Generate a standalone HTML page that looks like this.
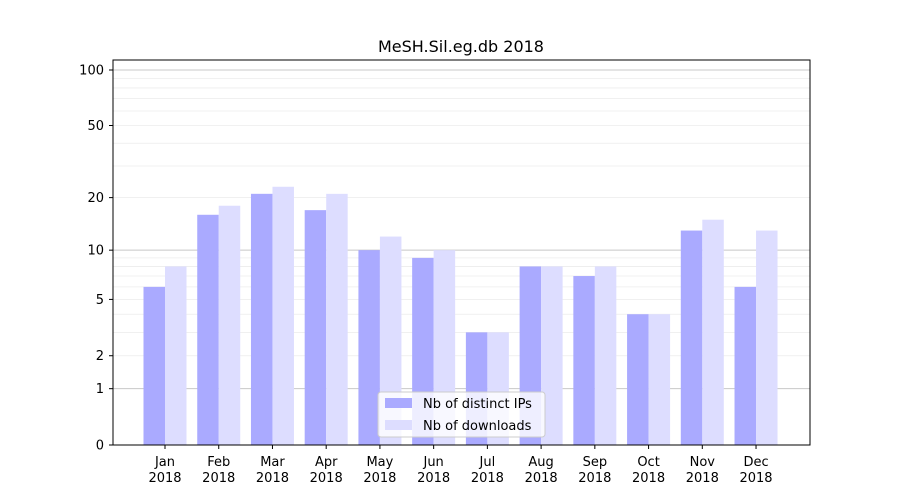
<!DOCTYPE html>
<html><head><meta charset="utf-8"><style>body{margin:0;background:#fff}svg{display:block}text{font-family:"DejaVu Sans","Liberation Sans",sans-serif;font-size:13px;fill:#000}</style></head>
<body>
<svg id="s" width="900" height="500" xmlns="http://www.w3.org/2000/svg"></svg>
<script>
const s=document.getElementById('s');
const Y=v=>445-187.1*Math.log10(1+v);
let h='';
h+='<text x="461" y="52" text-anchor="middle" style="font-size:16px">MeSH.Sil.eg.db 2018</text>';
// grid
for(const base of [1,10]){for(let k=1;k<10;k++){const v=base*k;if(v>100)break;const major=(k==1);h+=`<line x1="113" x2="810" y1="${Y(v)}" y2="${Y(v)}" stroke="${major?'#c8c8c8':'#ececec'}" stroke-width="${major?1:0.8}"/>`;}}
h+=`<line x1="113" x2="810" y1="${Y(100)}" y2="${Y(100)}" stroke="#c8c8c8"/>`;
const ips=[6,16,21,17,10,9,3,8,7,4,13,6],dl=[8,18,23,21,12,10,3,8,8,4,15,13];
const m=['Jan','Feb','Mar','Apr','May','Jun','Jul','Aug','Sep','Oct','Nov','Dec'];
for(let i=0;i<12;i++){const c=165+i*53.73;
h+=`<rect x="${c-21.5}" y="${Y(ips[i])}" width="21.5" height="${445-Y(ips[i])}" fill="#aaaaff"/>`;
h+=`<rect x="${c}" y="${Y(dl[i])}" width="21.5" height="${445-Y(dl[i])}" fill="#ddddff"/>`;
h+=`<line x1="${c}" x2="${c}" y1="445" y2="449" stroke="#000"/>`;
h+=`<text x="${c}" y="466" text-anchor="middle">${m[i]}</text><text x="${c}" y="482" text-anchor="middle">2018</text>`;}
for(const v of [0,1,2,5,10,20,50,100]){const y=Y(v);h+=`<line x1="109" x2="113" y1="${y}" y2="${y}" stroke="#000"/><text x="104" y="${y+4.5}" text-anchor="end">${v}</text>`;}
h+='<rect x="113" y="60" width="697" height="385" fill="none" stroke="#000"/>';
h+='<rect x="378" y="392" width="167" height="45" rx="3" fill="#fff" fill-opacity="0.8" stroke="#ccc"/>';
h+='<rect x="385" y="398" width="27" height="10" fill="#aaaaff"/><text x="423" y="408">Nb of distinct IPs</text>';
h+='<rect x="385" y="420" width="27" height="10" fill="#ddddff"/><text x="423" y="430">Nb of downloads</text>';
s.innerHTML=h;
</script>
</body></html>
